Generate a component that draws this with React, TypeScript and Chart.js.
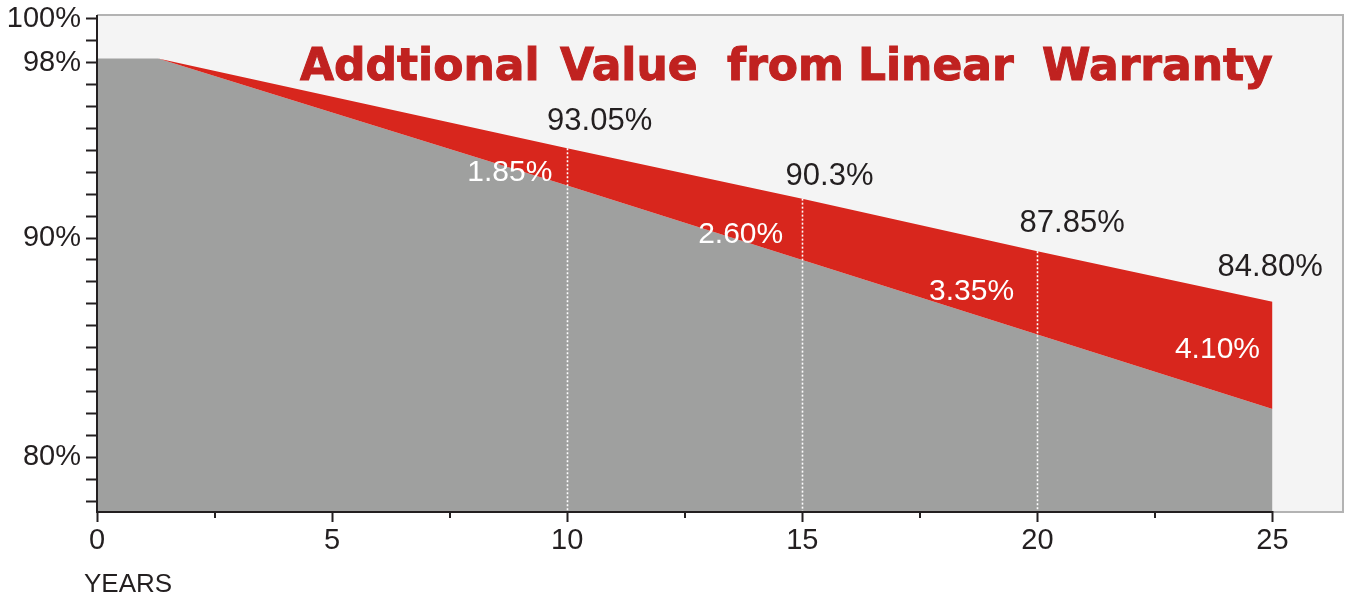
import React, { useEffect, useRef } from "react";
import { Chart, registerables } from "chart.js";

Chart.register(...registerables);

// ---- data ----
const years = [0, 1.3, 10, 15, 20, 25];
const linearWarranty = [98.2, 98.2, 94.1, 91.8, 89.4, 87.1];
const standardWarranty = [98.2, 98.2, 92.4, 89.0, 85.6, 82.2];

const markerYears = [10, 15, 20, 25];
const dottedYears = [10, 15, 20];
const linearLabels = ["93.05%", "90.3%", "87.85%", "84.80%"];
const gapLabels = ["1.85%", "2.60%", "3.35%", "4.10%"];

const xTickValues = [0, 5, 10, 15, 20, 25];
const xMinorTickValues = [2.5, 7.5, 12.5, 17.5, 22.5];
const yTickValues = [78, 79, 80, 81, 82, 83, 84, 85, 86, 87, 88, 89, 90, 91, 92, 93, 94, 95, 96, 97, 98, 99, 100];
const yLabelValues = [80, 90, 98, 100];

const titleWords = ["Addtional", "Value", "from", "Linear", "Warranty"];
const xAxisTitle = "YEARS";

// ---- layout (label anchors in data units) ----
const linearLabelPos: [number, number][] = [
  [10.69, 95.34],
  [15.58, 92.83],
  [20.74, 90.68],
  [24.95, 88.68],
];
const gapLabelPos: [number, number][] = [
  [8.78, 92.97],
  [13.69, 90.14],
  [18.6, 87.53],
  [23.83, 84.89],
];
const titleWordX = [300, 560, 727, 858, 1042];

const INK = "#231f20";
const FONT = "'Liberation Sans', Arial, sans-serif";

const decorPlugin = {
  id: "decor",
  beforeDraw(chart: any) {
    const { ctx, chartArea: a } = chart;
    ctx.save();
    ctx.fillStyle = "#f4f4f4";
    ctx.fillRect(a.left, a.top, a.right - a.left, a.bottom - a.top);
    ctx.restore();
  },
  afterDatasetsDraw(chart: any) {
    const { ctx, scales } = chart;
    const xs = scales.x;
    const ys = scales.y;
    ctx.save();
    // dotted verticals
    ctx.strokeStyle = "#ffffff";
    ctx.lineWidth = 1.6;
    ctx.setLineDash([2, 2]);
    dottedYears.forEach((yr) => {
      const i = years.indexOf(yr);
      const px = Math.round(xs.getPixelForValue(yr)) + 0.5;
      ctx.beginPath();
      ctx.moveTo(px, ys.getPixelForValue(linearWarranty[i]));
      ctx.lineTo(px, ys.getPixelForValue(ys.min));
      ctx.stroke();
    });
    ctx.setLineDash([]);
    // labels
    ctx.textAlign = "center";
    ctx.textBaseline = "middle";
    markerYears.forEach((_, k) => {
      ctx.font = `31px ${FONT}`;
      ctx.fillStyle = INK;
      ctx.fillText(
        linearLabels[k],
        xs.getPixelForValue(linearLabelPos[k][0]),
        ys.getPixelForValue(linearLabelPos[k][1])
      );
      ctx.font = `30px ${FONT}`;
      ctx.fillStyle = "#ffffff";
      ctx.fillText(
        gapLabels[k],
        xs.getPixelForValue(gapLabelPos[k][0]),
        ys.getPixelForValue(gapLabelPos[k][1])
      );
    });
    ctx.restore();
  },
  afterDraw(chart: any) {
    const { ctx, chartArea: a, scales } = chart;
    const xs = scales.x;
    ctx.save();
    // grey frame
    ctx.strokeStyle = "#b3b3b3";
    ctx.lineWidth = 2;
    ctx.beginPath();
    ctx.moveTo(a.left, a.top);
    ctx.lineTo(a.right, a.top);
    ctx.lineTo(a.right, a.bottom);
    ctx.lineTo(a.left, a.bottom);
    ctx.stroke();
    // black axes
    ctx.strokeStyle = INK;
    ctx.lineWidth = 2;
    ctx.beginPath();
    ctx.moveTo(a.left, a.top);
    ctx.lineTo(a.left, a.bottom);
    ctx.lineTo(xs.getPixelForValue(25) + 1, a.bottom);
    ctx.stroke();
    // minor x ticks
    xMinorTickValues.forEach((v) => {
      const px = Math.round(xs.getPixelForValue(v));
      ctx.beginPath();
      ctx.moveTo(px, a.bottom);
      ctx.lineTo(px, a.bottom + 6);
      ctx.stroke();
    });
    // axis title
    ctx.fillStyle = INK;
    ctx.font = `26px ${FONT}`;
    ctx.textAlign = "left";
    ctx.textBaseline = "alphabetic";
    ctx.fillText(xAxisTitle, 84, 592);
    // chart title
    ctx.fillStyle = "#c02220";
    ctx.strokeStyle = "#c02220";
    ctx.lineWidth = 1;
    ctx.font = `bold 44px 'DejaVu Sans', sans-serif`;
    titleWords.forEach((w, i) => {
      ctx.fillText(w, titleWordX[i], 80);
      ctx.strokeText(w, titleWordX[i], 80);
    });
    ctx.restore();
  },
};

export default function App() {
  const ref = useRef<HTMLCanvasElement | null>(null);
  useEffect(() => {
    if (!ref.current) return;
    const chart = new Chart(ref.current, {
      type: "line",
      data: {
        datasets: [
          {
            label: "Linear warranty",
            data: years.map((x, i) => ({ x, y: linearWarranty[i] })),
            backgroundColor: "#d8261d",
            borderWidth: 0,
            pointRadius: 0,
            fill: "+1",
            tension: 0,
          },
          {
            label: "Standard warranty",
            data: years.map((x, i) => ({ x, y: standardWarranty[i] })),
            backgroundColor: "#9fa09f",
            borderWidth: 0,
            pointRadius: 0,
            fill: "start",
            tension: 0,
          },
        ],
      },
      options: {
        animation: false,
        responsive: false,
        layout: { padding: { top: 15, right: 2, left: 0, bottom: 0 } },
        plugins: {
          legend: { display: false },
          tooltip: { enabled: false },
          title: { display: false },
        },
        scales: {
          x: {
            type: "linear",
            min: 0,
            max: 26.5,
            afterBuildTicks: (s: any) => {
              s.ticks = xTickValues.map((v) => ({ value: v }));
            },
            afterFit: (s: any) => {
              s.height = 82;
              s.paddingLeft = 0;
              s.paddingRight = 0;
            },
            border: { display: false },
            grid: {
              drawOnChartArea: false,
              drawTicks: true,
              tickLength: 10,
              tickWidth: 2,
              tickColor: INK,
            },
            ticks: {
              color: INK,
              font: { family: FONT, size: 29 },
              padding: 2,
              maxRotation: 0,
              autoSkip: false,
              callback: (v: any) => String(v),
            },
          },
          y: {
            type: "linear",
            min: 77.5,
            max: 100.18,
            afterBuildTicks: (s: any) => {
              s.ticks = yTickValues.map((v) => ({ value: v }));
            },
            afterFit: (s: any) => {
              s.width = 97;
              s.paddingTop = 0;
              s.paddingBottom = 0;
            },
            border: { display: false },
            grid: {
              drawOnChartArea: false,
              drawTicks: true,
              tickLength: 11,
              tickWidth: 2,
              tickColor: INK,
            },
            ticks: {
              color: INK,
              font: { family: FONT, size: 29 },
              padding: 5,
              autoSkip: false,
              callback: (v: any) => (yLabelValues.includes(Number(v)) ? `${v}%` : ""),
            },
          },
        },
      },
      plugins: [decorPlugin],
    });
    return () => chart.destroy();
  }, []);
  return (
    <div style={{ position: "absolute", left: 0, top: 0, width: 1345, height: 594, background: "#fff" }}>
      <canvas ref={ref} width={1345} height={594} style={{ display: "block" }} />
    </div>
  );
}
